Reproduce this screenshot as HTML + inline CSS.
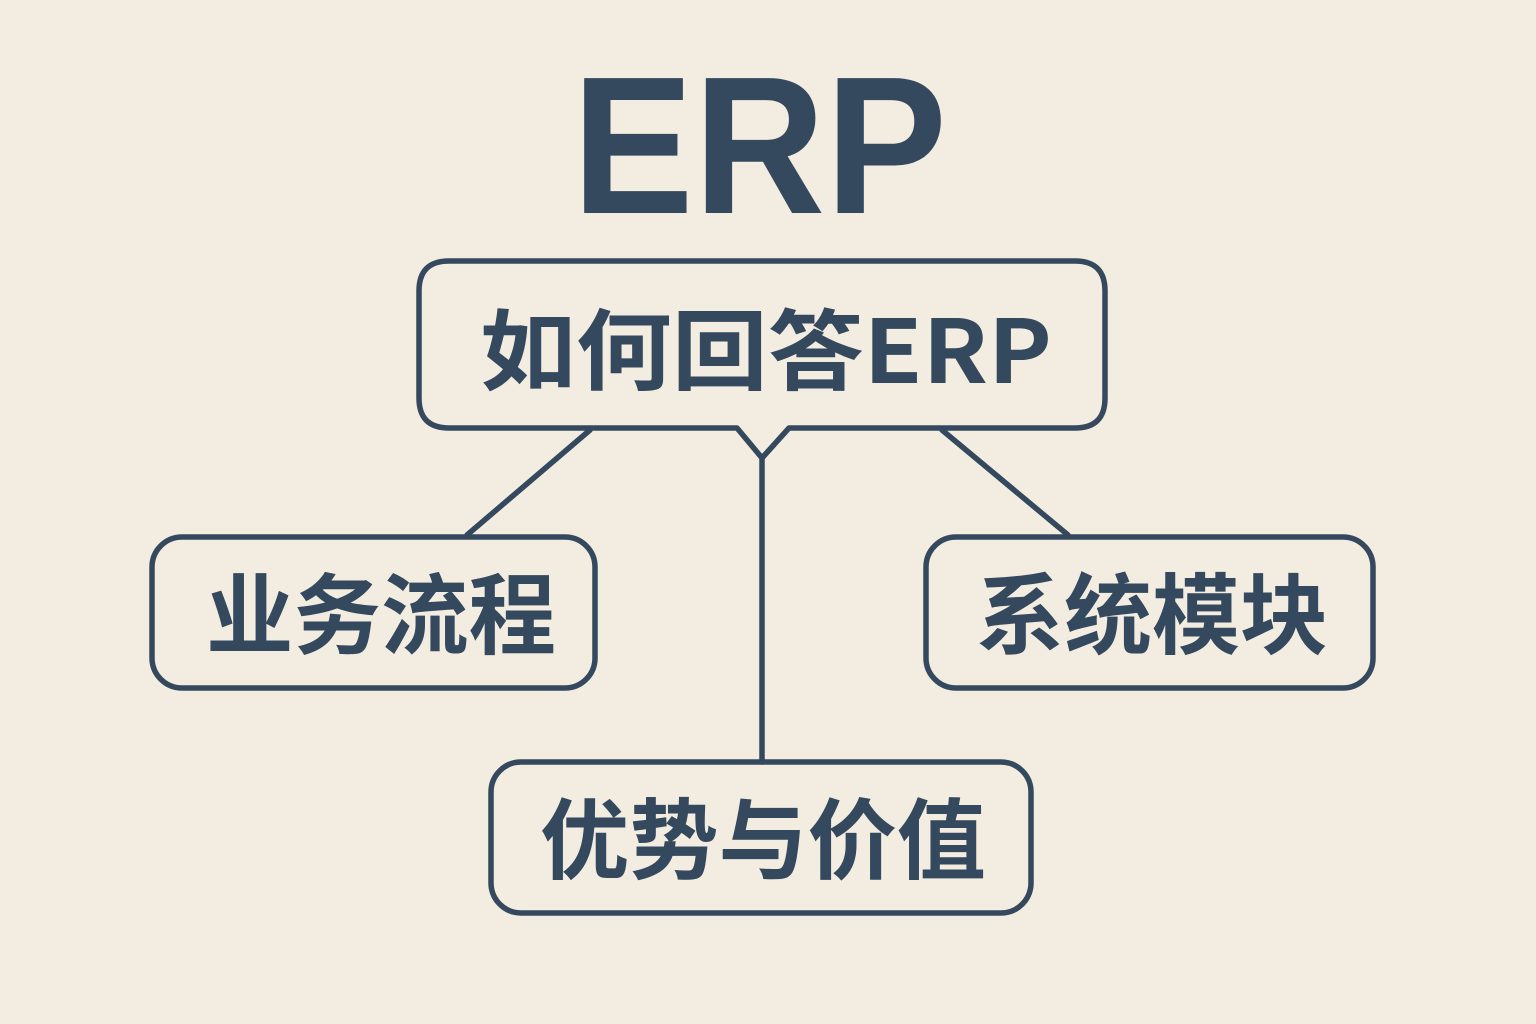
<!DOCTYPE html>
<html><head><meta charset="utf-8"><style>
html,body{margin:0;padding:0;background:#f3ece0;}
svg{display:block;}
text{font-family:"Liberation Sans","Noto Sans CJK SC",sans-serif;font-weight:700;fill:#34485e;}
</style></head><body>
<svg width="1536" height="1024" viewBox="0 0 1536 1024" xmlns="http://www.w3.org/2000/svg">
<rect width="1536" height="1024" fill="#f3ece0"/>
<text x="572" y="213" font-size="196" textLength="375" lengthAdjust="spacingAndGlyphs">ERP</text>
<g fill="none" stroke="#34485e" stroke-width="5.5" stroke-linejoin="round" stroke-linecap="round">
<path d="M449,261 H1075 Q1105,261 1105,291 V398 Q1105,428 1075,428 H789 L762,458 L737,428 H449 Q419,428 419,398 V291 Q419,261 449,261 Z"/>
<line x1="590" y1="430" x2="467" y2="535"/>
<line x1="942" y1="430" x2="1068" y2="535"/>
<line x1="762" y1="458" x2="762" y2="762"/>
<rect x="152" y="537" width="443" height="151" rx="30"/>
<rect x="926" y="537" width="447" height="151" rx="30"/>
<rect x="491" y="762" width="540" height="151" rx="30"/>
</g>
<text x="480" y="383" font-size="88" textLength="572" lengthAdjust="spacingAndGlyphs" style='font-family:"Noto Sans CJK SC",sans-serif'>如何回答ERP</text>
<text x="206" y="647" font-size="88" textLength="350" lengthAdjust="spacingAndGlyphs" style='font-family:"Noto Sans CJK SC",sans-serif'>业务流程</text>
<text x="976" y="647" font-size="88" textLength="352" lengthAdjust="spacingAndGlyphs" style='font-family:"Noto Sans CJK SC",sans-serif'>系统模块</text>
<text x="540" y="872" font-size="88" textLength="446" lengthAdjust="spacingAndGlyphs" style='font-family:"Noto Sans CJK SC",sans-serif'>优势与价值</text>
</svg>
</body></html>
